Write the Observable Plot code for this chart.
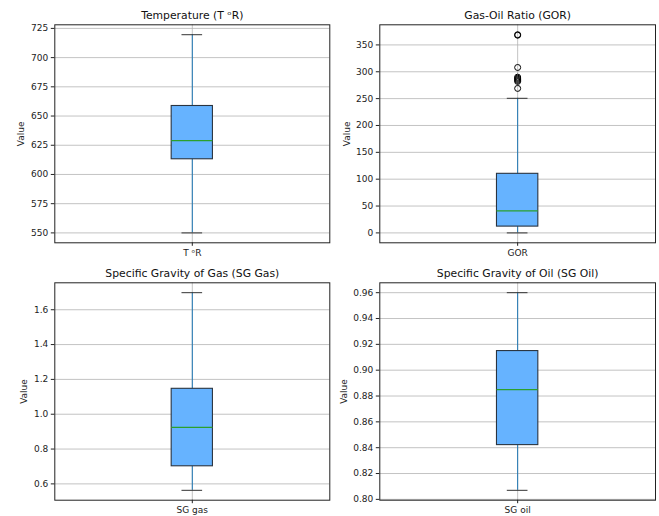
<!DOCTYPE html>
<html>
<head>
<meta charset="utf-8">
<script src="https://cdn.jsdelivr.net/npm/d3@7"></script>
<script src="https://cdn.jsdelivr.net/npm/@observablehq/plot@0.6"></script>
<style>
  html, body { margin: 0; padding: 0; background: #fff; }
  #root { position: relative; width: 659px; height: 516px; font-family: "DejaVu Sans", sans-serif; }
  #root svg { position: absolute; overflow: visible; }
</style>
</head>
<body>
<div id="root"></div>
<script>
// ---- data ----
const titles = ["Temperature (T \u1D52R)", "Gas-Oil Ratio (GOR)", "Specific Gravity of Gas (SG Gas)", "Specific Gravity of Oil (SG Oil)"];
const categories = ["T \u1D52R", "GOR", "SG gas", "SG oil"];
const whiskerLow  = [550,   0,     0.563, 0.807];
const q1          = [613,   11.7,  0.701, 0.842];
const median      = [629,   41,    0.924, 0.885];
const q3          = [658.6, 110,   1.146, 0.9148];
const whiskerHigh = [719.6, 250.6, 1.698, 0.960];
const outliers    = [[], [369, 368, 308, 290, 288, 286, 284, 282, 269], [], []];
const tempTicks = [550, 575, 600, 625, 650, 675, 700, 725];
const gorTicks  = [0, 50, 100, 150, 200, 250, 300, 350];
const sgGasTicks = [0.6, 0.8, 1.0, 1.2, 1.4, 1.6];
const sgOilTicks = [0.80, 0.82, 0.84, 0.86, 0.88, 0.90, 0.92, 0.94, 0.96];
const yTicks = [tempTicks, gorTicks, sgGasTicks, sgOilTicks];
const tickFormats = [d3.format("d"), d3.format("d"), d3.format(".1f"), d3.format(".2f")];

// ---- layout ----
const layout = [
  {left: 0,   top: 0,   width: 330, height: 266, ml: 54.3, mr: 0.7, mt: 24.3, mb: 23.7},
  {left: 330, top: 0,   width: 329, height: 266, ml: 49.3, mr: 4,   mt: 24.3, mb: 23.7},
  {left: 0,   top: 258, width: 330, height: 258, ml: 54.3, mr: 0.7, mt: 24.3, mb: 16.3},
  {left: 330, top: 258, width: 329, height: 258, ml: 49.3, mr: 4,   mt: 24.3, mb: 16.3}
];
const labelX = [20.7, 346.7, 23.3, 343.3];

const root = document.getElementById("root");
const FONT = "DejaVu Sans";

for (let i = 0; i < 4; i++) {
  const L = layout[i];
  const all = [whiskerLow[i], whiskerHigh[i], ...outliers[i]];
  const lo = d3.min(all), hi = d3.max(all);
  const pad = (hi - lo) * 0.05;
  const box = [{cat: categories[i], lo: whiskerLow[i], q1: q1[i], med: median[i], q3: q3[i], hi: whiskerHigh[i]}];
  const outs = outliers[i].map(v => ({v}));
  const half = 0.075, cap = 0.0375;
  const chart = Plot.plot({
    width: L.width, height: L.height,
    marginLeft: L.ml, marginRight: L.mr, marginTop: L.mt, marginBottom: L.mb,
    style: {fontFamily: FONT, fontSize: "9px", color: "#222", background: "transparent"},
    x: {domain: [0.5, 1.5]},
    y: {domain: [lo - pad, hi + pad]},
    marks: [
      Plot.gridY(yTicks[i], {stroke: "#b0b0b0", strokeOpacity: 0.85, strokeWidth: 0.9}),
      Plot.gridX([1], {stroke: "#b0b0b0", strokeOpacity: 0.85, strokeWidth: 0.9}),
      Plot.ruleX(box, {x: () => 1, y1: "lo", y2: "q1", stroke: "#1f77b4", strokeWidth: 1}),
      Plot.ruleX(box, {x: () => 1, y1: "q3", y2: "hi", stroke: "#1f77b4", strokeWidth: 1}),
      Plot.ruleY(box, {y: "lo", x1: () => 1 - cap, x2: () => 1 + cap, stroke: "#333", strokeWidth: 1}),
      Plot.ruleY(box, {y: "hi", x1: () => 1 - cap, x2: () => 1 + cap, stroke: "#333", strokeWidth: 1}),
      Plot.rect(box, {x1: () => 1 - half, x2: () => 1 + half, y1: "q1", y2: "q3", fill: "#66b3ff", stroke: "#2a3440", strokeWidth: 1.1}),
      Plot.ruleY(box, {y: "med", x1: () => 1 - half, x2: () => 1 + half, stroke: "#2ca02c", strokeWidth: 1.3}),
      Plot.dot(outs, {x: () => 1, y: "v", r: 3, stroke: "#000", strokeWidth: 1, fill: "none"}),
      Plot.frame({stroke: "#222", strokeWidth: 1}),
      Plot.axisY(yTicks[i], {tickFormat: tickFormats[i], tickSize: 3.5, tickPadding: 3, fontSize: 9, label: null, stroke: "#222", fill: "#222"}),
      Plot.axisX([1], {tickFormat: () => categories[i], tickSize: 3.5, tickPadding: 3, fontSize: 9, label: null, stroke: "#222", fill: "#222"}),
      Plot.text([titles[i]], {frameAnchor: "top", text: d => d, dy: -9.5, lineAnchor: "middle", fontSize: 10.8, fill: "#111"}),
      Plot.text(["Value"], {frameAnchor: "left", text: d => d, dx: labelX[i] - L.left - L.ml, rotate: -90, textAnchor: "middle", lineAnchor: "middle", fontSize: 9, fill: "#222"})
    ]
  });
  chart.style.left = L.left + "px";
  chart.style.top = L.top + "px";
  root.appendChild(chart);
}
</script>
</body>
</html>
